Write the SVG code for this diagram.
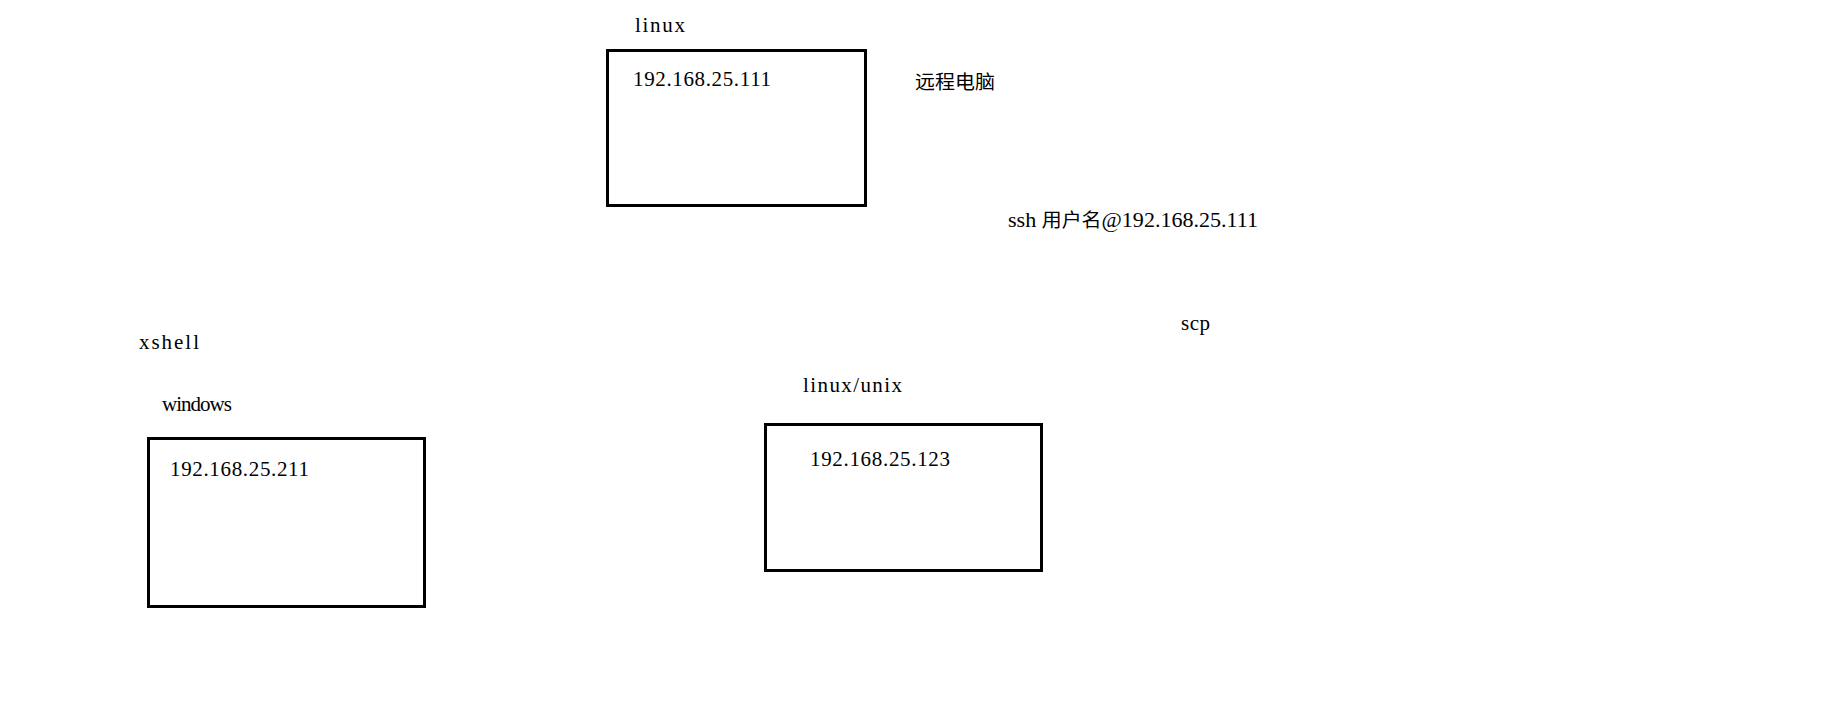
<svg xmlns="http://www.w3.org/2000/svg" width="1834" height="728" viewBox="0 0 1834 728">
<style>
.box{fill:#fff;stroke:#000;stroke-width:3}
.t{font-family:"Liberation Serif","Noto Sans CJK SC",serif;font-size:21px;fill:#000}
.c{font-family:"Noto Sans CJK SC","Liberation Serif",sans-serif;font-size:19px;fill:#000}
</style>
<rect width="1834" height="728" fill="#fff"/>
<g id="node-linux">
<text class="t" x="635" y="32" textLength="50" lengthAdjust="spacing">linux</text>
<rect class="box" x="607.5" y="50.5" width="258" height="155"/>
<text class="t" x="633" y="86" textLength="138" lengthAdjust="spacing">192.168.25.111</text>
</g>
<g id="label-remote">
<text class="c" x="915" y="89" textLength="80" lengthAdjust="spacingAndGlyphs">远程电脑</text>
</g>
<g id="label-ssh">
<text class="t" x="1008" y="227" textLength="250" lengthAdjust="spacingAndGlyphs">ssh <tspan style="font-family:'Noto Sans CJK SC',sans-serif;font-size:19px">用户名</tspan>@192.168.25.111</text>
</g>
<g id="label-scp">
<text class="t" x="1181" y="330" textLength="29" lengthAdjust="spacing">scp</text>
</g>
<g id="node-windows">
<text class="t" x="139" y="349" textLength="60" lengthAdjust="spacing">xshell</text>
<text class="t" x="162" y="411" textLength="70" lengthAdjust="spacing">windows</text>
<rect class="box" x="148.5" y="438.5" width="276" height="168"/>
<text class="t" x="170" y="476" textLength="139" lengthAdjust="spacing">192.168.25.211</text>
</g>
<g id="node-unix">
<text class="t" x="803" y="392" textLength="99" lengthAdjust="spacing">linux/unix</text>
<rect class="box" x="765.5" y="424.5" width="276" height="146"/>
<text class="t" x="810" y="466" textLength="140" lengthAdjust="spacing">192.168.25.123</text>
</g>
<g id="connectors"></g>
</svg>
